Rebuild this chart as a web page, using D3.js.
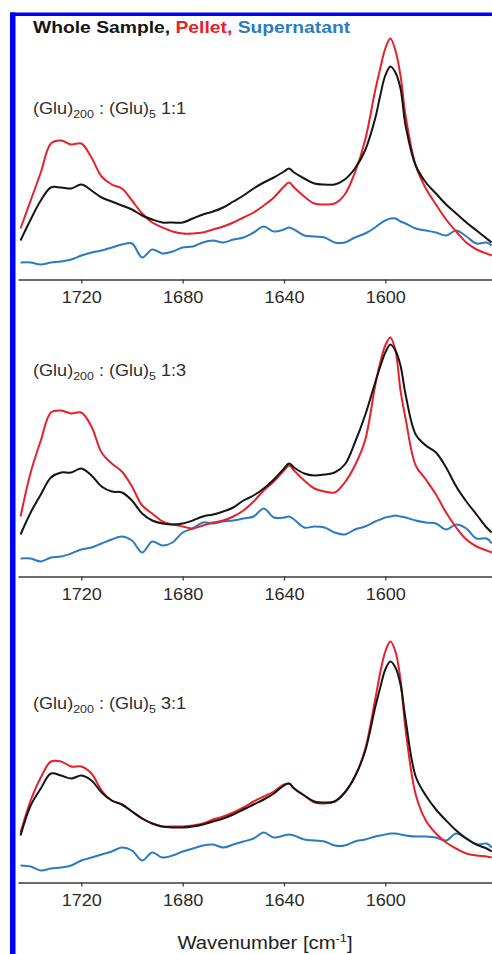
<!DOCTYPE html>
<html>
<head>
<meta charset="utf-8">
<script src="https://cdn.jsdelivr.net/npm/d3@7"></script>
<style>
  html, body { margin: 0; padding: 0; background: #fff; }
  #vis { width: 492px; height: 954px; }
  text { font-family: "Liberation Sans", Arial, sans-serif; }
</style>
</head>
<body>
<div id="vis"></div>
<script>
// FTIR spectra, three mixing ratios (arbitrary absorbance units)
const wavenumbers = [1744, 1740, 1736, 1732, 1728, 1724, 1720, 1716, 1712, 1708, 1704, 1700, 1696, 1692, 1688, 1684,
  1680, 1676, 1672, 1668, 1664, 1660, 1656, 1652, 1648, 1644, 1640, 1638, 1636, 1632, 1628, 1624, 1620, 1616,
  1612, 1608, 1604, 1602, 1600, 1598, 1596, 1594, 1592, 1588, 1584, 1580, 1576, 1572, 1568, 1564, 1560, 1558];

const ticks = [1720, 1680, 1640, 1600];
const ratios = ["1:1", "1:3", "3:1"];

// panel 1:1
const whole11 = [0.39, 0.60, 0.79, 0.92, 0.92, 0.91, 0.95, 0.89, 0.82, 0.78, 0.74, 0.70, 0.64, 0.60, 0.57, 0.57,
  0.57, 0.61, 0.65, 0.68, 0.72, 0.78, 0.84, 0.91, 0.97, 1.02, 1.08, 1.11, 1.07, 1.01, 0.96, 0.95, 0.95, 1.00,
  1.11, 1.29, 1.61, 1.84, 2.04, 2.13, 2.07, 1.91, 1.54, 1.14, 0.97, 0.86, 0.75, 0.66, 0.57, 0.49, 0.41, 0.37];
const pellet11 = [0.51, 0.79, 1.07, 1.36, 1.39, 1.35, 1.36, 1.22, 1.03, 0.95, 0.91, 0.79, 0.66, 0.57, 0.52, 0.48,
  0.46, 0.46, 0.47, 0.50, 0.53, 0.57, 0.62, 0.67, 0.74, 0.82, 0.93, 0.97, 0.92, 0.83, 0.76, 0.75, 0.76, 0.85,
  1.07, 1.39, 1.89, 2.11, 2.31, 2.41, 2.29, 2.04, 1.64, 1.14, 0.91, 0.75, 0.60, 0.48, 0.37, 0.30, 0.26, 0.24];
const super11 = [0.17, 0.17, 0.15, 0.17, 0.18, 0.20, 0.24, 0.27, 0.29, 0.32, 0.35, 0.36, 0.22, 0.30, 0.26, 0.28,
  0.32, 0.33, 0.37, 0.39, 0.37, 0.40, 0.42, 0.47, 0.53, 0.48, 0.50, 0.52, 0.50, 0.44, 0.43, 0.42, 0.37, 0.37,
  0.42, 0.46, 0.52, 0.56, 0.59, 0.61, 0.61, 0.58, 0.56, 0.51, 0.49, 0.47, 0.44, 0.49, 0.43, 0.36, 0.37, 0.34];

// panel 1:3
const whole13 = [0.42, 0.64, 0.82, 0.99, 1.04, 1.04, 1.08, 1.01, 0.90, 0.85, 0.84, 0.76, 0.63, 0.56, 0.53, 0.52,
  0.53, 0.56, 0.60, 0.62, 0.65, 0.69, 0.76, 0.81, 0.88, 0.97, 1.08, 1.13, 1.09, 1.03, 1.01, 1.02, 1.04, 1.12,
  1.34, 1.61, 1.94, 2.10, 2.24, 2.32, 2.26, 2.11, 1.82, 1.42, 1.31, 1.24, 1.09, 0.90, 0.75, 0.62, 0.49, 0.44];
const pellet13 = [0.60, 1.04, 1.36, 1.64, 1.66, 1.63, 1.64, 1.50, 1.24, 1.13, 1.05, 0.90, 0.71, 0.63, 0.55, 0.52,
  0.50, 0.48, 0.51, 0.54, 0.56, 0.60, 0.66, 0.75, 0.86, 0.95, 1.06, 1.11, 1.06, 0.96, 0.88, 0.85, 0.84, 0.94,
  1.11, 1.36, 1.91, 2.14, 2.31, 2.39, 2.26, 1.86, 1.58, 1.11, 0.97, 0.82, 0.64, 0.49, 0.37, 0.30, 0.26, 0.24];
const super13 = [0.18, 0.18, 0.15, 0.19, 0.20, 0.23, 0.27, 0.29, 0.33, 0.37, 0.40, 0.36, 0.24, 0.35, 0.31, 0.34,
  0.44, 0.48, 0.54, 0.53, 0.55, 0.56, 0.58, 0.60, 0.68, 0.59, 0.59, 0.60, 0.57, 0.49, 0.50, 0.49, 0.44, 0.42,
  0.47, 0.50, 0.55, 0.57, 0.59, 0.60, 0.61, 0.60, 0.59, 0.56, 0.54, 0.53, 0.47, 0.52, 0.48, 0.38, 0.38, 0.33];

// panel 3:1
const whole31 = [0.47, 0.77, 0.94, 1.09, 1.07, 1.04, 1.07, 1.02, 0.90, 0.82, 0.78, 0.71, 0.64, 0.59, 0.56, 0.55,
  0.55, 0.56, 0.58, 0.61, 0.64, 0.68, 0.73, 0.78, 0.83, 0.89, 0.97, 0.99, 0.94, 0.87, 0.81, 0.80, 0.81, 0.90,
  1.06, 1.31, 1.75, 1.95, 2.13, 2.21, 2.15, 1.98, 1.63, 1.06, 0.87, 0.73, 0.62, 0.52, 0.44, 0.38, 0.34, 0.31];
const pellet31 = [0.50, 0.82, 1.05, 1.21, 1.21, 1.16, 1.16, 1.09, 0.92, 0.82, 0.78, 0.71, 0.64, 0.59, 0.56, 0.56,
  0.56, 0.57, 0.59, 0.63, 0.66, 0.70, 0.75, 0.81, 0.86, 0.91, 0.98, 0.99, 0.94, 0.87, 0.80, 0.79, 0.81, 0.90,
  1.06, 1.33, 1.83, 2.10, 2.31, 2.41, 2.31, 2.03, 1.53, 0.88, 0.62, 0.49, 0.40, 0.34, 0.29, 0.27, 0.26, 0.25];
const super31 = [0.17, 0.16, 0.12, 0.14, 0.15, 0.17, 0.22, 0.25, 0.28, 0.31, 0.35, 0.32, 0.22, 0.30, 0.25, 0.27,
  0.31, 0.34, 0.37, 0.38, 0.35, 0.38, 0.41, 0.44, 0.50, 0.45, 0.47, 0.48, 0.47, 0.43, 0.42, 0.41, 0.37, 0.37,
  0.41, 0.43, 0.46, 0.47, 0.48, 0.49, 0.49, 0.48, 0.47, 0.46, 0.46, 0.45, 0.42, 0.49, 0.44, 0.38, 0.39, 0.35];

const panels = [
  {ratio: ratios[0], whole: whole11, pellet: pellet11, sup: super11},
  {ratio: ratios[1], whole: whole13, pellet: pellet13, sup: super13},
  {ratio: ratios[2], whole: whole31, pellet: pellet31, sup: super31}
];

const COL = {whole: "#141414", pellet: "#e8202a", sup: "#2b7bc0"};
const W = 492, H = 954;
const axisYs = [279.5, 576.5, 882.5];
const labelYs = [114, 376, 709];
const SX = 1.13; // glyphs in the figure are drawn a little wide

const svg = d3.select('#vis').append('svg').attr('width', W).attr('height', H);

// blue frame on the left and top
svg.append('rect').attr('x', 10).attr('y', 12.5).attr('width', W - 10).attr('height', 3.5).attr('fill', '#0000f5');
svg.append('rect').attr('x', 10).attr('y', 12.5).attr('width', 5.5).attr('height', H).attr('fill', '#0000f5');

const x = d3.scaleLinear().domain([1745, 1558]).range([18, 491.7]);

// legend-like title
const title = svg.append('text')
  .attr('transform', `translate(33,33) scale(1.17,1)`)
  .attr('font-size', 16.5).attr('font-weight', 'bold');
title.append('tspan').attr('fill', COL.whole).text('Whole Sample, ');
title.append('tspan').attr('fill', COL.pellet).text('Pellet, ');
title.append('tspan').attr('fill', COL.sup).text('Supernatant');

panels.forEach((p, i) => {
  const y0 = axisYs[i];
  const y = d3.scaleLinear().domain([0, 2.6]).range([y0, y0 - 260]);
  const g = svg.append('g');

  const line = d3.line()
    .x((d, j) => x(wavenumbers[j]))
    .y(d => y(d))
    .curve(d3.curveCatmullRom.alpha(0.5));

  // supernatant, then pellet, then whole sample on top
  [['sup', p.sup], ['pellet', p.pellet], ['whole', p.whole]].forEach(([k, vals]) => {
    g.append('path')
      .datum(vals)
      .attr('d', line)
      .attr('fill', 'none')
      .attr('stroke', COL[k])
      .attr('stroke-width', 2)
      .attr('stroke-linejoin', 'round');
  });

  const ax = g.append('g')
    .attr('transform', `translate(0,${y0})`)
    .call(d3.axisBottom(x).tickValues(ticks).tickSize(4).tickSizeOuter(0).tickPadding(8).tickFormat(d3.format('d')));
  ax.select('.domain').attr('stroke', '#3a3a3a').attr('stroke-width', 1.6);
  ax.selectAll('.tick line').attr('stroke', '#3a3a3a').attr('stroke-width', 1.3);
  ax.selectAll('.tick text')
    .attr('font-size', 16).attr('fill', '#2a2a2a')
    .attr('font-family', '"Liberation Sans", Arial, sans-serif')
    .attr('transform', `scale(${SX},1)`);

  // sample label, (Glu)200 : (Glu)5 ratio
  const lab = g.append('text')
    .attr('transform', `translate(33,${labelYs[i]}) scale(${SX},1)`)
    .attr('font-size', 16).attr('fill', '#2e2e2e');
  lab.append('tspan').text('(Glu)');
  lab.append('tspan').attr('font-size', 11).attr('dy', 4).text('200');
  lab.append('tspan').attr('dy', -4).text(' : (Glu)');
  lab.append('tspan').attr('font-size', 11).attr('dy', 4).text('5');
  lab.append('tspan').attr('dy', -4).text(' ' + p.ratio);
});

// x axis title
const xt = svg.append('text')
  .attr('transform', `translate(265,949) scale(1.16,1)`)
  .attr('text-anchor', 'middle')
  .attr('font-size', 17.5).attr('fill', '#222');
xt.append('tspan').text('Wavenumber [cm');
xt.append('tspan').attr('font-size', 11).attr('dy', -7).text('-1');
xt.append('tspan').attr('dy', 7).text(']');
</script>
</body>
</html>
